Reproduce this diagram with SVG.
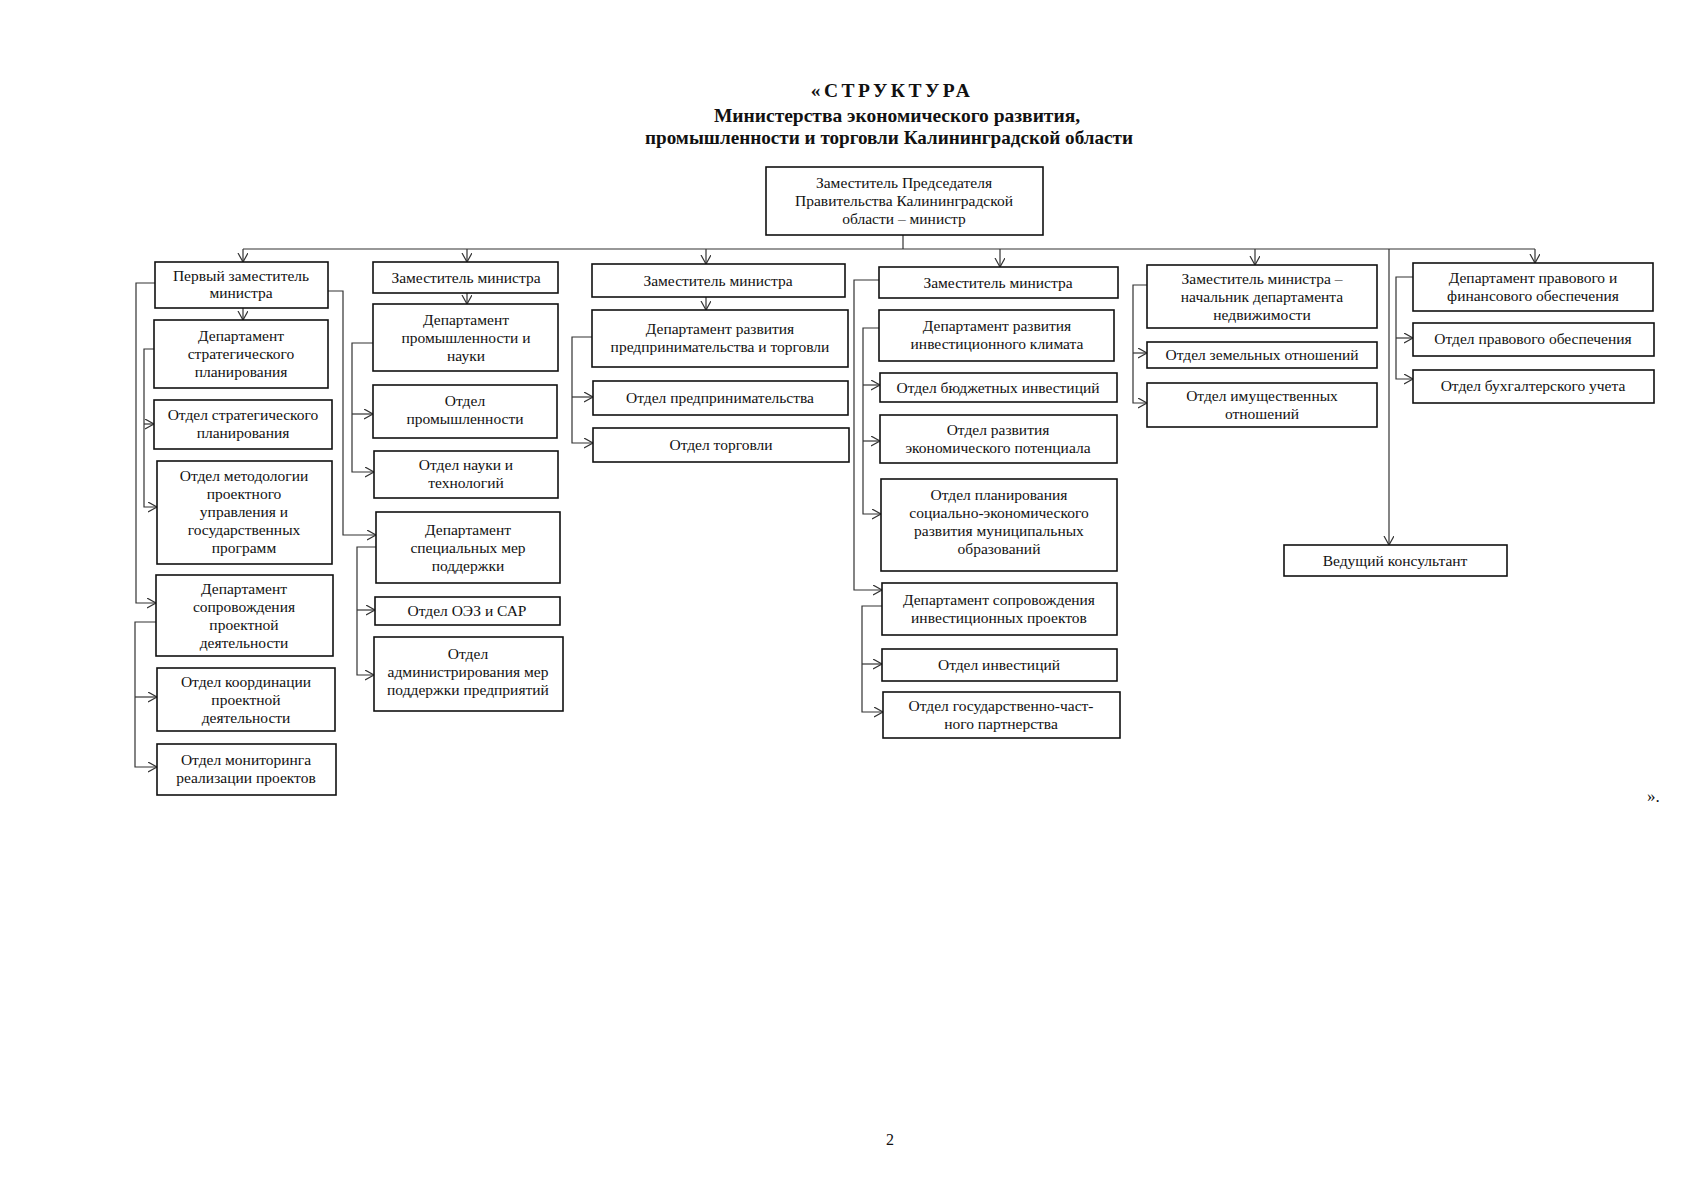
<svg xmlns="http://www.w3.org/2000/svg" width="1697" height="1200" viewBox="0 0 1697 1200">
<style>
.b{fill:#fff;stroke:#111;stroke-width:1.6}
.t{font-family:"Liberation Serif","Times New Roman",serif;font-size:15.5px;text-anchor:middle;fill:#111}
.h{font-family:"Liberation Serif","Times New Roman",serif;font-size:19.5px;font-weight:bold;text-anchor:middle;fill:#111}
.c{fill:none;stroke:#333;stroke-width:1.2}
</style>
<defs>
<marker id="a" markerUnits="userSpaceOnUse" markerWidth="12" markerHeight="12" refX="9" refY="5" orient="auto">
<path d="M0,0 L9,5 L0,10" fill="none" stroke="#333" stroke-width="1.2"/>
</marker>
</defs>
<rect width="1697" height="1200" fill="#fff"/>
<g id="title">
<text class="h" x="892" y="97" letter-spacing="3.5">«СТРУКТУРА</text>
<text class="h" x="897" y="122">Министерства экономического развития,</text>
<text class="h" x="889" y="144" textLength="488" lengthAdjust="spacingAndGlyphs">промышленности и торговли Калининградской области</text>
</g>
<g id="connectors">
<path class="c" d="M903,235 V249"/>
<path class="c" d="M243,249 H1535"/>
<path class="c" d="M243,249 V262" marker-end="url(#a)"/>
<path class="c" d="M467,249 V262" marker-end="url(#a)"/>
<path class="c" d="M706,249 V264" marker-end="url(#a)"/>
<path class="c" d="M1000,249 V267" marker-end="url(#a)"/>
<path class="c" d="M1255,249 V265" marker-end="url(#a)"/>
<path class="c" d="M1535,249 V263" marker-end="url(#a)"/>
<path class="c" d="M1389,249 V545" marker-end="url(#a)"/>
<path class="c" d="M243,308 V320" marker-end="url(#a)"/>
<path class="c" d="M155,283 H136 V603 H156" marker-end="url(#a)"/>
<path class="c" d="M328,291 H343 V535 H376" marker-end="url(#a)"/>
<path class="c" d="M154,349 H144 V507 H157" marker-end="url(#a)"/>
<path class="c" d="M144,424 H154" marker-end="url(#a)"/>
<path class="c" d="M156,622 H135 V767 H157" marker-end="url(#a)"/>
<path class="c" d="M135,697 H157" marker-end="url(#a)"/>
<path class="c" d="M467,293 V304" marker-end="url(#a)"/>
<path class="c" d="M373,343 H352 V472 H374" marker-end="url(#a)"/>
<path class="c" d="M352,414 H373" marker-end="url(#a)"/>
<path class="c" d="M376,547 H357 V675 H374" marker-end="url(#a)"/>
<path class="c" d="M357,610 H375" marker-end="url(#a)"/>
<path class="c" d="M706,297 V310" marker-end="url(#a)"/>
<path class="c" d="M592,337 H572 V443 H593" marker-end="url(#a)"/>
<path class="c" d="M572,397 H593" marker-end="url(#a)"/>
<path class="c" d="M879,280 H854 V590 H882" marker-end="url(#a)"/>
<path class="c" d="M879,328 H863 V514 H881" marker-end="url(#a)"/>
<path class="c" d="M863,385 H880" marker-end="url(#a)"/>
<path class="c" d="M863,441 H880" marker-end="url(#a)"/>
<path class="c" d="M882,606 H862 V712 H883" marker-end="url(#a)"/>
<path class="c" d="M862,664 H882" marker-end="url(#a)"/>
<path class="c" d="M1147,285 H1133 V403 H1147" marker-end="url(#a)"/>
<path class="c" d="M1133,353 H1147" marker-end="url(#a)"/>
<path class="c" d="M1413,277 H1396 V379 H1413" marker-end="url(#a)"/>
<path class="c" d="M1396,338 H1413" marker-end="url(#a)"/>
</g>
<g id="n-minister"><rect class="b" x="766" y="167" width="277" height="68"/><text class="t"><tspan x="904" y="188">Заместитель Председателя</tspan><tspan x="904" y="206">Правительства Калининградской</tspan><tspan x="904" y="224">области – министр</tspan></text></g>
<g id="n-first"><rect class="b" x="155" y="262" width="173" height="46"/><text class="t"><tspan x="241" y="281">Первый заместитель</tspan><tspan x="241" y="298">министра</tspan></text></g>
<g id="n-dsp"><rect class="b" x="154" y="320" width="174" height="68"/><text class="t"><tspan x="241" y="341">Департамент</tspan><tspan x="241" y="359">стратегического</tspan><tspan x="241" y="377">планирования</tspan></text></g>
<g id="n-osp"><rect class="b" x="154" y="400" width="178" height="49"/><text class="t"><tspan x="243" y="420">Отдел стратегического</tspan><tspan x="243" y="438">планирования</tspan></text></g>
<g id="n-omp"><rect class="b" x="157" y="461" width="175" height="103"/><text class="t"><tspan x="244" y="481">Отдел методологии</tspan><tspan x="244" y="499">проектного</tspan><tspan x="244" y="517">управления и</tspan><tspan x="244" y="535">государственных</tspan><tspan x="244" y="553">программ</tspan></text></g>
<g id="n-dpd"><rect class="b" x="156" y="575" width="177" height="81"/><text class="t"><tspan x="244" y="594">Департамент</tspan><tspan x="244" y="612">сопровождения</tspan><tspan x="244" y="630">проектной</tspan><tspan x="244" y="648">деятельности</tspan></text></g>
<g id="n-okpd"><rect class="b" x="157" y="668" width="178" height="63"/><text class="t"><tspan x="246" y="687">Отдел координации</tspan><tspan x="246" y="705">проектной</tspan><tspan x="246" y="723">деятельности</tspan></text></g>
<g id="n-omrp"><rect class="b" x="157" y="744" width="179" height="51"/><text class="t"><tspan x="246" y="765">Отдел мониторинга</tspan><tspan x="246" y="783">реализации проектов</tspan></text></g>
<g id="n-z2"><rect class="b" x="373" y="262" width="185" height="31"/><text class="t"><tspan x="466" y="283">Заместитель министра</tspan></text></g>
<g id="n-dpn"><rect class="b" x="373" y="304" width="185" height="67"/><text class="t"><tspan x="466" y="325">Департамент</tspan><tspan x="466" y="343">промышленности и</tspan><tspan x="466" y="361">науки</tspan></text></g>
<g id="n-op"><rect class="b" x="373" y="385" width="184" height="53"/><text class="t"><tspan x="465" y="406">Отдел</tspan><tspan x="465" y="424">промышленности</tspan></text></g>
<g id="n-ont"><rect class="b" x="374" y="451" width="184" height="47"/><text class="t"><tspan x="466" y="470">Отдел науки и</tspan><tspan x="466" y="488">технологий</tspan></text></g>
<g id="n-dsm"><rect class="b" x="376" y="512" width="184" height="71"/><text class="t"><tspan x="468" y="535">Департамент</tspan><tspan x="468" y="553">специальных мер</tspan><tspan x="468" y="571">поддержки</tspan></text></g>
<g id="n-ooez"><rect class="b" x="375" y="597" width="185" height="28"/><text class="t"><tspan x="467" y="616">Отдел ОЭЗ и САР</tspan></text></g>
<g id="n-oam"><rect class="b" x="374" y="637" width="189" height="74"/><text class="t"><tspan x="468" y="659">Отдел</tspan><tspan x="468" y="677">администрирования мер</tspan><tspan x="468" y="695">поддержки предприятий</tspan></text></g>
<g id="n-z3"><rect class="b" x="592" y="264" width="253" height="33"/><text class="t"><tspan x="718" y="286">Заместитель министра</tspan></text></g>
<g id="n-drpt"><rect class="b" x="592" y="310" width="256" height="57"/><text class="t"><tspan x="720" y="334">Департамент развития</tspan><tspan x="720" y="352">предпринимательства и торговли</tspan></text></g>
<g id="n-opr"><rect class="b" x="593" y="381" width="255" height="34"/><text class="t"><tspan x="720" y="403">Отдел предпринимательства</tspan></text></g>
<g id="n-ot"><rect class="b" x="593" y="428" width="256" height="34"/><text class="t"><tspan x="721" y="450">Отдел торговли</tspan></text></g>
<g id="n-z4"><rect class="b" x="879" y="267" width="239" height="31"/><text class="t"><tspan x="998" y="288">Заместитель министра</tspan></text></g>
<g id="n-dik"><rect class="b" x="879" y="310" width="235" height="51"/><text class="t"><tspan x="997" y="331">Департамент развития</tspan><tspan x="997" y="349">инвестиционного климата</tspan></text></g>
<g id="n-obi"><rect class="b" x="880" y="373" width="237" height="29"/><text class="t"><tspan x="998" y="393">Отдел бюджетных инвестиций</tspan></text></g>
<g id="n-orep"><rect class="b" x="880" y="415" width="237" height="48"/><text class="t"><tspan x="998" y="435">Отдел развития</tspan><tspan x="998" y="453">экономического потенциала</tspan></text></g>
<g id="n-opsm"><rect class="b" x="881" y="479" width="236" height="92"/><text class="t"><tspan x="999" y="500">Отдел планирования</tspan><tspan x="999" y="518">социально-экономического</tspan><tspan x="999" y="536">развития муниципальных</tspan><tspan x="999" y="554">образований</tspan></text></g>
<g id="n-dsip"><rect class="b" x="882" y="583" width="235" height="52"/><text class="t"><tspan x="999" y="605">Департамент сопровождения</tspan><tspan x="999" y="623">инвестиционных проектов</tspan></text></g>
<g id="n-oi"><rect class="b" x="882" y="649" width="235" height="32"/><text class="t"><tspan x="999" y="670">Отдел инвестиций</tspan></text></g>
<g id="n-ogchp"><rect class="b" x="883" y="692" width="237" height="46"/><text class="t"><tspan x="1001" y="711">Отдел государственно-част-</tspan><tspan x="1001" y="729">ного партнерства</tspan></text></g>
<g id="n-z5"><rect class="b" x="1147" y="265" width="230" height="63"/><text class="t"><tspan x="1262" y="284">Заместитель министра –</tspan><tspan x="1262" y="302">начальник департамента</tspan><tspan x="1262" y="320">недвижимости</tspan></text></g>
<g id="n-oz"><rect class="b" x="1147" y="342" width="230" height="26"/><text class="t"><tspan x="1262" y="360">Отдел земельных отношений</tspan></text></g>
<g id="n-oim"><rect class="b" x="1147" y="383" width="230" height="44"/><text class="t"><tspan x="1262" y="401">Отдел имущественных</tspan><tspan x="1262" y="419">отношений</tspan></text></g>
<g id="n-dpf"><rect class="b" x="1413" y="263" width="240" height="48"/><text class="t"><tspan x="1533" y="283">Департамент правового и</tspan><tspan x="1533" y="301">финансового обеспечения</tspan></text></g>
<g id="n-opo"><rect class="b" x="1413" y="323" width="241" height="33"/><text class="t"><tspan x="1533" y="344">Отдел правового обеспечения</tspan></text></g>
<g id="n-obu"><rect class="b" x="1413" y="370" width="241" height="33"/><text class="t"><tspan x="1533" y="391">Отдел бухгалтерского учета</tspan></text></g>
<g id="n-vk"><rect class="b" x="1284" y="545" width="223" height="31"/><text class="t"><tspan x="1395" y="566">Ведущий консультант</tspan></text></g>
<text x="1647" y="802" style="font-family:'Liberation Serif',serif;font-size:17px;fill:#111">».</text>
<text x="890" y="1145" style="font-family:'Liberation Serif',serif;font-size:16px;fill:#111;text-anchor:middle">2</text>
</svg>
